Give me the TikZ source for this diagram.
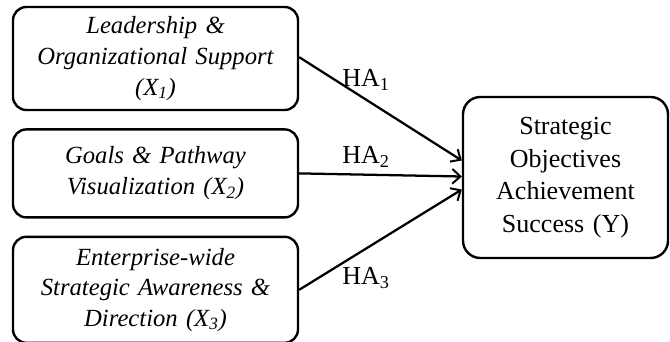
\documentclass[tikz,border=0pt]{standalone}
\usepackage{fontspec}
\setmainfont{Liberation Serif}
\usetikzlibrary{arrows.meta, positioning}
\tikzset{
    x=0.75pt,
    y=-0.75pt,
    node distance=12.75pt,
    fw_factor/.style={
        rectangle,
        rounded corners=10pt,
        draw=black,
        line width=1.8pt,
        minimum width=213.75pt,
        text width=205pt,
        inner sep=2pt,
        align=center,
        font=\fontsize{18.5}{23}\selectfont\itshape
    },
    fw_outcome/.style={
        rectangle,
        rounded corners=13pt,
        draw=black,
        line width=1.8pt,
        minimum width=153.75pt,
        minimum height=120.75pt,
        text width=140pt,
        align=center,
        font=\fontsize{19.5}{24.5}\selectfont
    },
    fw_arrow/.style={
        -{Straight Barb[length=6pt, width=11pt, line width=1.5pt]},
        line width=1.7pt
    },
    fw_label/.style={
        font=\fontsize{19.5}{22}\selectfont,
        inner sep=0pt
    }
}

\begin{document}
\begin{tikzpicture}
\useasboundingbox (0,0) rectangle (670,342);

% --- Independent variables ---
\node[fw_factor, minimum height=77.25pt] (X1) at (155.5,58.5) {Leadership \&\\ Organizational Support\\ (X\textsubscript{1})};
\node[fw_factor, minimum height=66pt, below=of X1] (X2) {Goals \& Pathway\\ Visualization (X\textsubscript{2})};
\node[fw_factor, minimum height=79.5pt, below=of X2] (X3) {Enterprise-wide\\ Strategic Awareness \&\\ Direction (X\textsubscript{3})};

% --- Dependent variable ---
\node[fw_outcome] (Y) at (565.5,177.5) {Strategic\\ Objectives\\ Achievement\\ Success (Y)};

% --- Hypotheses ---
\draw[fw_arrow] ([yshift=1pt]X1.east) -- ([yshift=12.75pt]Y.west);
\draw[fw_arrow] (X2.east) -- ([yshift=0.75pt]Y.west);
\draw[fw_arrow] (X3.east) -- ([yshift=-9pt]Y.west);

\node[fw_label] (HA1) at (366,80) {HA\textsubscript{1}};
\node[fw_label] (HA2) at (366,157) {HA\textsubscript{2}};
\node[fw_label] (HA3) at (366,278) {HA\textsubscript{3}};

\end{tikzpicture}
\end{document}
